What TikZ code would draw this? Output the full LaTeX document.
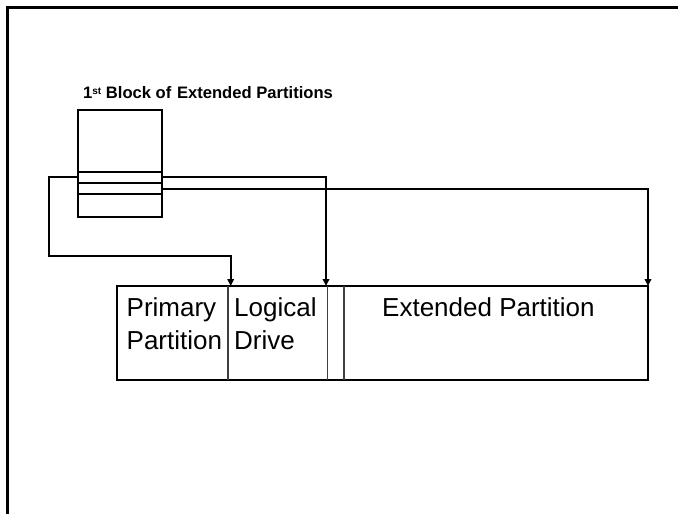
\documentclass[tikz,border=0pt]{standalone}
\usepackage{fontspec}
\setmainfont{Liberation Sans}
\usetikzlibrary{arrows.meta}
\begin{document}
\begin{tikzpicture}[x=1pt,y=-1pt,
  frame/.style={line width=2.4pt},
  blkline/.style={line width=2pt},
  divline/.style={line width=1.1pt,draw=black!75},
  conn/.style={line width=1.9pt,-{Triangle[length=7pt,width=6.5pt]}},
  lbl/.style={inner sep=0pt,anchor=base west,font=\fontsize{26}{30}\selectfont},
  ttl/.style={inner sep=0pt,anchor=base west,font=\fontsize{16.6}{19}\selectfont\bfseries}]
\useasboundingbox (0,0) rectangle (678,514);
% outer frame (only top and left edges visible)
\draw[frame] (7.5,514) -- (7.5,7.5) -- (678,7.5);
% title
\node[ttl] (title) at (83,98.3) {1{\fontsize{10}{12}\selectfont\raisebox{3.5pt}{st}} Block of\hspace{1pt} Extended Partitions};
% first block
\node[draw,blkline,minimum width=84.3pt,minimum height=106.7pt,inner sep=0pt,outer sep=0pt,anchor=north west] (blk) at (77.7,110) {};
\draw[blkline] (77.7,171.7) -- (162,171.7);
\draw[blkline] (77.7,182.7) -- (162,182.7);
\draw[blkline] (77.7,194.3) -- (162,194.3);
\coordinate (r1L) at (77.7,177.3);
\coordinate (r1R) at (162,177.3);
\coordinate (r2R) at (162,188.7);
% partition bar
\node[draw,line width=2pt,minimum width=531pt,minimum height=94pt,inner sep=0pt,outer sep=0pt,anchor=north west] (disk) at (116.7,286) {};
\draw[divline] (228,286) -- (228,380);
\draw[divline] (327.3,286) -- (327.3,380);
\draw[divline] (344,286) -- (344,380);
\coordinate (t1) at (230.7,286);
\coordinate (t2) at (326,286);
\coordinate (t3) at (648,286);
% labels
\node[lbl] (prim1) at (126.5,316.7) {Primary};
\node[lbl] (prim2) at (126.5,349.3) {Partition};
\node[lbl] (log1) at (234,316.7) {Logical};
\node[lbl] (log2) at (234,349.3) {Drive};
\node[lbl] (ext) at (382,316.7) {Extended Partition};
% connectors
\draw[conn] (r1L) -| (49.3,256) -| (t1);
\draw[conn] (r1R) -| (t2);
\draw[conn] (r2R) -| (t3);
\end{tikzpicture}
\end{document}
